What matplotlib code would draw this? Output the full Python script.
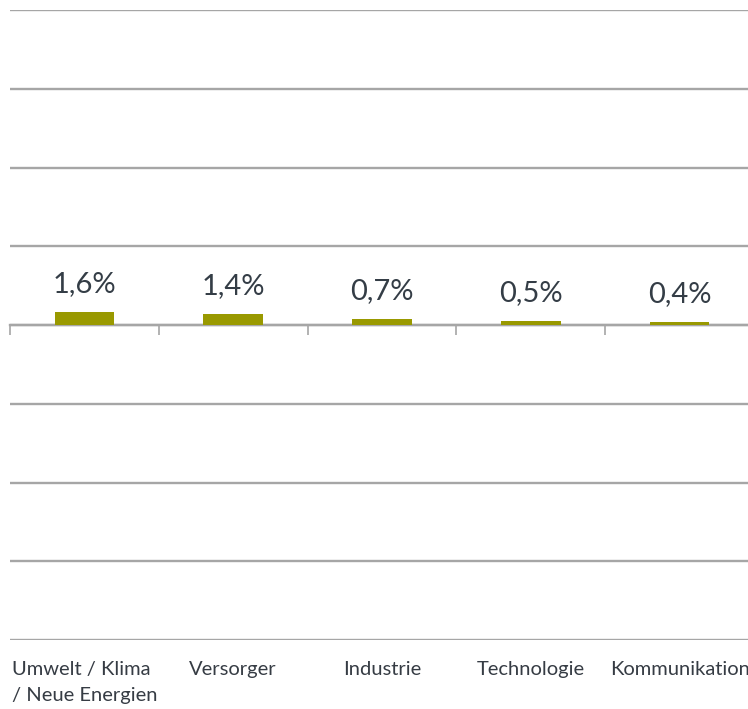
import numpy as np
import matplotlib.pyplot as plt
from matplotlib.transforms import blended_transform_factory

categories = ["Umwelt / Klima\n/ Neue Energien", "Versorger", "Industrie",
              "Technologie", "Kommunikation"]
values = [1.6, 1.4, 0.7, 0.5, 0.4]
value_labels = ["1,6%", "1,4%", "0,7%", "0,5%", "0,4%"]

plt.rcParams['font.family'] = ['Lato', 'DejaVu Sans']

fig = plt.figure(figsize=(7.48, 7.09), dpi=100)
ax = fig.add_axes([10/748, 69/709, 744/748, 630/709])

x = np.arange(len(categories))
ax.bar(x, values, width=0.4, color="#999900", zorder=3)

for xi, v, lab in zip(x, values, value_labels):
    ax.annotate(lab, (xi, v), xytext=(0, 11), textcoords="offset points",
                ha="center", va="bottom", fontsize=21, color="#343d46")

ax.set_xlim(-0.5, len(categories) - 0.5)
ax.set_ylim(-40, 40)
ax.set_yticks(np.arange(-40, 41, 10))
ax.yaxis.grid(True, color="#a6a6a6", linewidth=1.7, zorder=0)
ax.tick_params(axis="y", left=False, labelleft=False)

for s in ["left", "right", "top"]:
    ax.spines[s].set_visible(False)
ax.spines["bottom"].set_position(("data", 0))
ax.spines["bottom"].set_color("#a6a6a6")
ax.spines["bottom"].set_linewidth(1.7)
ax.set_xticks(np.arange(-0.5, len(categories), 1.0))
ax.tick_params(axis="x", direction="out", length=7, width=1.2,
               color="#a6a6a6", labelbottom=False)

trans = blended_transform_factory(ax.transData, ax.transAxes)
for xi, c in zip(x, categories):
    ax.text(xi, -0.034, c, transform=trans, ha="center", va="top",
            fontsize=14.5, color="#363c44", linespacing=1.6,
            multialignment="left")

fig.savefig("out.png", dpi=100)
